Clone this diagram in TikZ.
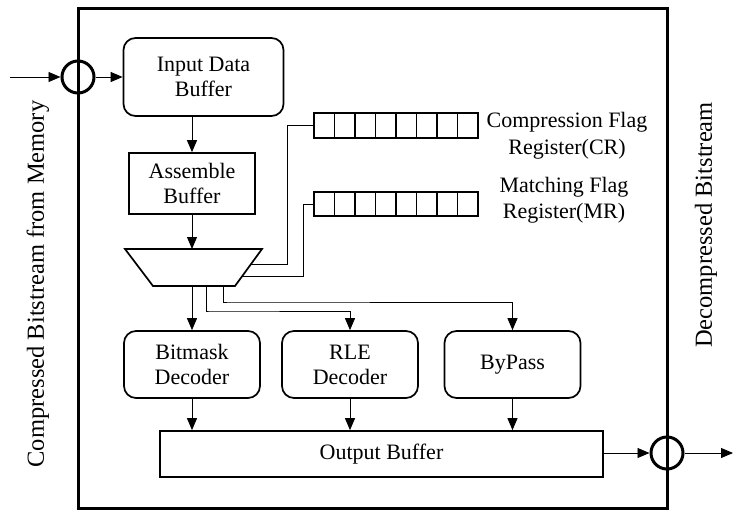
\documentclass[tikz,border=0pt]{standalone}
\usepackage{fontspec}
\setmainfont{Liberation Serif}
\usetikzlibrary{arrows.meta}
\begin{document}
\begin{tikzpicture}[x=1pt,y=-1pt,
  lbl/.style={font=\fontsize{22}{25}\selectfont, align=center, inner sep=0pt},
  blk/.style={lbl, draw, line width=1.7pt},
  rblk/.style={blk, rounded corners=12pt},
  cell/.style={draw, line width=1.7pt, minimum width=20.5pt, inner sep=0pt},
  wire/.style={line width=0.9pt},
  arr/.style={wire, -{Triangle[length=12pt,width=10pt]}},
  port/.style={draw, circle, line width=3pt, minimum size=32pt, inner sep=0pt},
  sidelbl/.style={font=\fontsize{24.5}{28}\selectfont, rotate=90, inner sep=0pt},
]
\useasboundingbox (0,0) rectangle (733,512);

% enclosing unit
\draw[line width=3pt] (78,8) rectangle (667,508);

% ports on the unit border
\node[port] (pin) at (78,77) {};
\node[port] (pout) at (667,453) {};
\coordinate (src) at (10,77);
\coordinate (dst) at (733,453);

% data path blocks
\node[rblk, minimum width=160pt, minimum height=78pt] (inbuf) at (203.5,77) {Input Data\\Buffer};
\node[blk, minimum width=126pt, minimum height=61pt] (asm) at (192,183.5) {Assemble\\Buffer};
\node[rblk, minimum width=136pt, minimum height=67pt] (bm) at (192,364.5) {Bitmask\\Decoder};
\node[rblk, minimum width=136pt, minimum height=67pt] (rle) at (350,364.5) {RLE\\Decoder};
\node[rblk, minimum width=136pt, minimum height=67pt] (byp) at (512.5,364.5) {ByPass};
\node[blk, minimum width=443pt, minimum height=46pt] (ob) at (381.5,454) {Output Buffer};

% demultiplexer
\coordinate (muxTL) at (125,249);
\coordinate (muxTR) at (262,249);
\coordinate (muxBR) at (235,286);
\coordinate (muxBL) at (153,286);
\draw[line width=1.7pt, line join=miter] (muxTL) -- (muxTR) -- (muxBR) -- (muxBL) -- cycle;
\coordinate (muxin) at (192,249);
\coordinate (mcr) at (251.1,264);
\coordinate (mmr) at (242.3,276);
\coordinate (o1) at (192,286);
\coordinate (o2) at (206,286);
\coordinate (o3) at (223,286);

% flag registers
\foreach \i in {1,...,8} {
  \node[cell, minimum height=25pt] (cr\i) at ({303.75+20.5*\i},125.5) {};
  \node[cell, minimum height=24pt] (mr\i) at ({303.75+20.5*\i},204) {};
}
\node[lbl, font=\fontsize{22}{27}\selectfont] (crlbl) at (567,136) {Compression Flag\\Register(CR)};
\node[lbl, font=\fontsize{22}{26}\selectfont] (mrlbl) at (564,200) {Matching Flag\\Register(MR)};

% side labels
\node[sidelbl] (inlbl) at (38,284) {Compressed Bitstream from Memory};
\node[sidelbl] (outlbl) at (706,225) {Decompressed Bitstream};

% connectors
\draw[arr] (src) -- (pin);
\draw[arr] (pin) -- (inbuf);
\draw[arr] (inbuf.south -| asm.north) -- (asm.north);
\draw[arr] (asm.south) -- (muxin);
\draw[wire] (mcr) -- (287,264) -- (287,125.5) -- (cr1.west);
\draw[wire] (mmr) -- (303,276) -- (303,204) -- (mr1.west);
\draw[arr] (o1) -- (bm.north);
\draw[arr] (o2) |- (210,311) -| (rle.north);
\draw[arr] (o3) |- (230,302) -| (byp.north);
\draw[arr] (bm.south) -- (bm.south |- ob.north);
\draw[arr] (rle.south) -- (rle.south |- ob.north);
\draw[arr] (byp.south) -- (byp.south |- ob.north);
\draw[arr] (ob.east |- pout) -- (pout);
\draw[arr] (pout) -- (dst);
\end{tikzpicture}
\end{document}
